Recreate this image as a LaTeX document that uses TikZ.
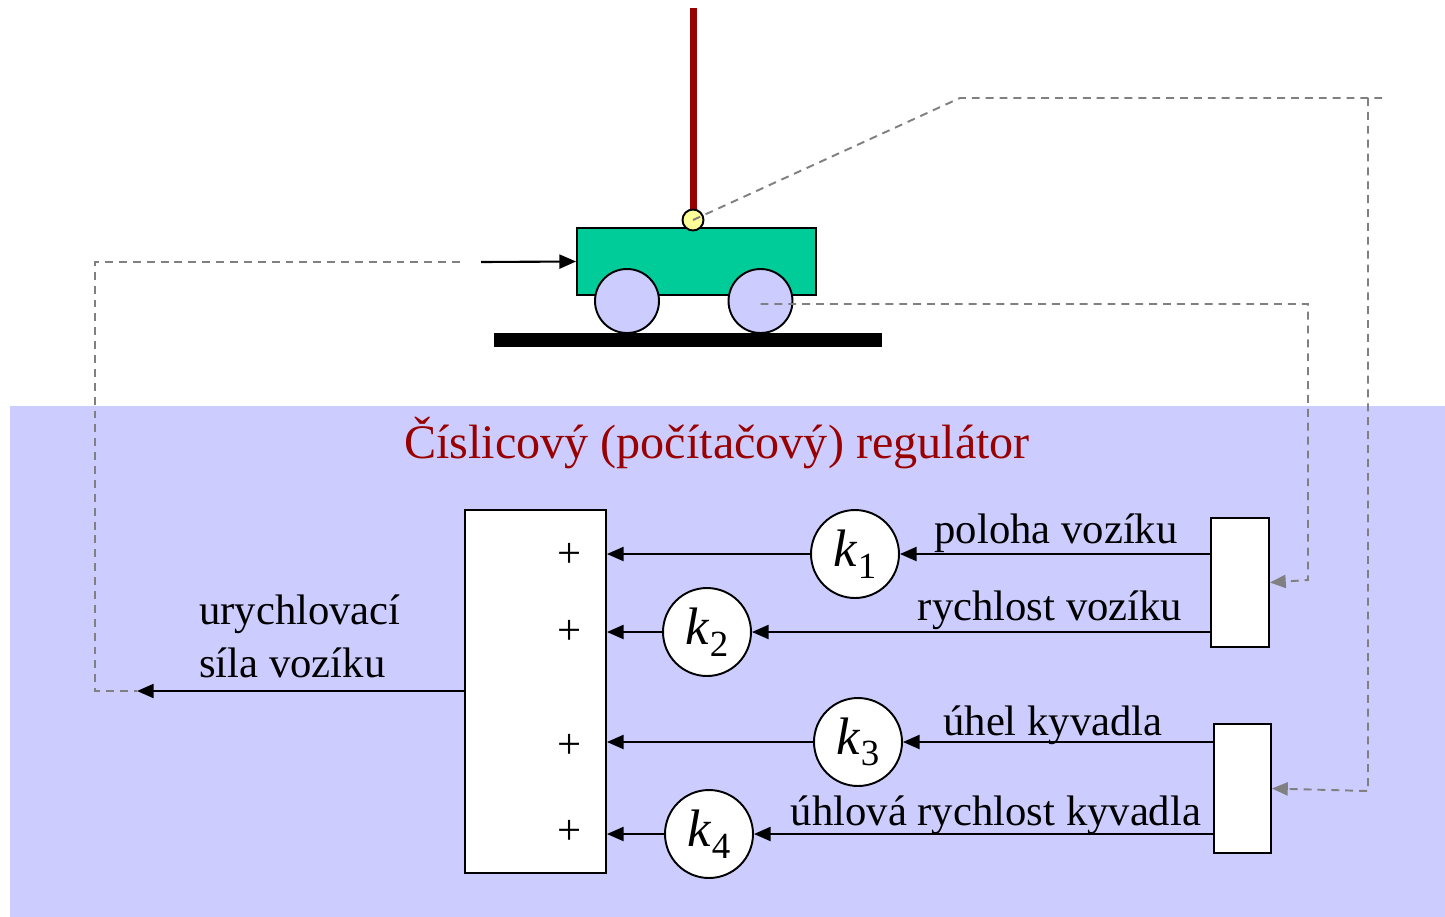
\documentclass[tikz,border=0pt]{standalone}
\usepackage{fontspec}
\setmainfont{Liberation Serif}
\usetikzlibrary{positioning,arrows.meta}
\definecolor{regblue}{HTML}{CCCCFF}
\definecolor{cartgreen}{HTML}{00CC99}
\definecolor{roddark}{HTML}{990000}
\definecolor{pivotyellow}{HTML}{FFFF99}
\definecolor{wiregray}{HTML}{808080}
\newcommand{\gain}[1]{{\fontsize{30}{30}\selectfont\textit{k}}\raisebox{-0.6ex}{\fontsize{21}{21}\selectfont #1}}

\begin{document}
\begin{tikzpicture}[x=0.02cm, y=-0.02cm,
    every node/.style={font=\fontsize{24.3}{30}\selectfont},
    gain/.style={circle, draw, line width=1.1pt, fill=white, minimum size=1.76cm, inner sep=0pt},
    sumbox/.style={draw, line width=1.1pt, fill=white, minimum width=2.82cm, minimum height=7.26cm},
    sensor/.style={draw, line width=1.1pt, fill=white, minimum width=1.16cm, minimum height=2.58cm},
    wheel/.style={circle, draw, line width=1.1pt, fill=regblue, minimum size=1.28cm},
    signal/.style={-{Triangle[length=9.5pt,width=8pt]}, line width=1.2pt},
    wire/.style={wiregray, line width=1.1pt, dash pattern=on 4.5pt off 3.4pt},
    wirein/.style={wire, -{Triangle[length=9pt,width=7.5pt]}}]
      \useasboundingbox (0,0) rectangle (1445,917);
      \fill[regblue] (10,406) rectangle (1445,917);
      % Cart and pendulum
      \fill (494,333) rectangle (882,347);
      \draw[roddark, line width=0.14cm] (693,8) -- (693,214);
      \node[draw, line width=1.1pt, fill=cartgreen, minimum width=4.78cm, minimum height=1.34cm] (cart) at (696.5,261.5) {};
      \node[wheel] (lwheel) at (627,301) {};
      \node[wheel] (rwheel) at (760.5,301) {};
      \node[circle, draw, line width=1.1pt, fill=pivotyellow, minimum size=0.42cm, inner sep=0pt] (pivot) at (693,220) {};
      \coordinate (push) at (481,262);
      \coordinate (pushend) at (460,262);
      % Define nodes
      \node[text=roddark, anchor=base, font=\fontsize{27.4}{33}\selectfont] (title) at (717,458) {Číslicový (počítačový) regulátor};
      \node[sumbox] (sum) at (535.5,691.5) {};
      \node (plus1) at (570,555) {+};
      \node (plus2) at (570,632) {+};
      \node (plus3) at (570,746) {+};
      \node (plus4) at (570,832) {+};
      \node[gain] (k1) at (855,554) {\gain{1}};
      \node[gain] (k2) at (707,632) {\gain{2}};
      \node[gain] (k3) at (858,742) {\gain{3}};
      \node[gain] (k4) at (709,834) {\gain{4}};
      \node[sensor] (posbox) at (1240,582.5) {};
      \node[sensor, minimum width=1.14cm] (anglebox) at (1242.5,788.5) {};
      \node[anchor=base] (pos) at (1056,543) {poloha vozíku};
      \node[anchor=base] (vel) at (1050,620) {rychlost vozíku};
      \node[anchor=base] (ang) at (1053,735) {úhel kyvadla};
      \node[anchor=base] (angvel) at (996,825) {úhlová rychlost kyvadla};
      \node[anchor=base west, align=left] (force) at (193,677) {urychlovací\\síla vozíku};
      \coordinate (out) at (137,691);
      % Connect nodes
      \draw[signal] (push) -- (cart.west);
      \draw[signal] (k1.west) -- (k1.west -| sum.east);
      \draw[signal] (k2.west) -- (k2.west -| sum.east);
      \draw[signal] (k3.west) -- (k3.west -| sum.east);
      \draw[signal] (k4.west) -- (k4.west -| sum.east);
      \draw[signal] (posbox.west |- k1.east) -- (k1.east);
      \draw[signal] (posbox.west |- k2.east) -- (k2.east);
      \draw[signal] (anglebox.west |- k3.east) -- (k3.east);
      \draw[signal] (anglebox.west |- k4.east) -- (k4.east);
      \draw[signal] (sum.west |- out) -- (out);
      % Measured and applied signals
      \draw[wire] (pushend) -- (95,262) -- (95,691) -- (out);
      \draw[wire] (pivot.center) -- (960,98) -- (1383,98);
      \draw[wirein] (1368,98) -- (1368,791) -- (anglebox.east);
      \draw[wirein] (rwheel.center) ++(0,3) -- (1308,304) -- (1308,580) -- (posbox.east);
\end{tikzpicture}
\end{document}
